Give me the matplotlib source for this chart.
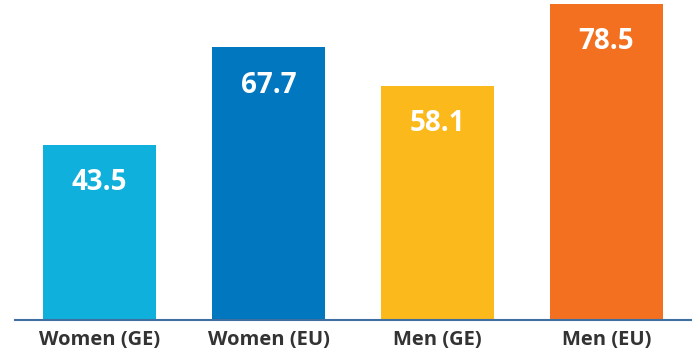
import matplotlib
matplotlib.use("Agg")
from matplotlib import pyplot as plt

CATEGORIES = ["Women (GE)", "Women (EU)", "Men (GE)", "Men (EU)"]
VALUES = [43.5, 67.7, 58.1, 78.5]
COLORS = ["#10b0dc", "#0077bf", "#fbb91c", "#f37021"]

plt.rcParams['font.family'] = ['Open Sans', 'DejaVu Sans']

fig = plt.figure(figsize=(6.94, 3.52), dpi=100)
ax = fig.add_axes([15 / 694, 32 / 352, 676 / 694, 320 / 352])

x = list(range(len(CATEGORIES)))
bars = ax.bar(x, VALUES, width=0.67, color=COLORS)

for b, v in zip(bars, VALUES):
    ax.text(b.get_x() + b.get_width() / 2, v - 9.4, f"{v:.1f}",
            ha="center", va="center", color="white", fontsize=20, fontweight="bold")

ax.set_xlim(-0.5, 3.5)
ax.set_ylim(0, 79.5)
ax.set_xticks(x)
ax.set_xticklabels(CATEGORIES, fontsize=14.5, fontweight="bold", color="#333333")
ax.tick_params(axis="x", length=0, pad=7)
ax.set_yticks([])
for s in ["top", "right", "left"]:
    ax.spines[s].set_visible(False)
ax.spines["bottom"].set_color("#3d6fa3")
ax.spines["bottom"].set_linewidth(1.5)

fig.savefig("out.png", dpi=100)
